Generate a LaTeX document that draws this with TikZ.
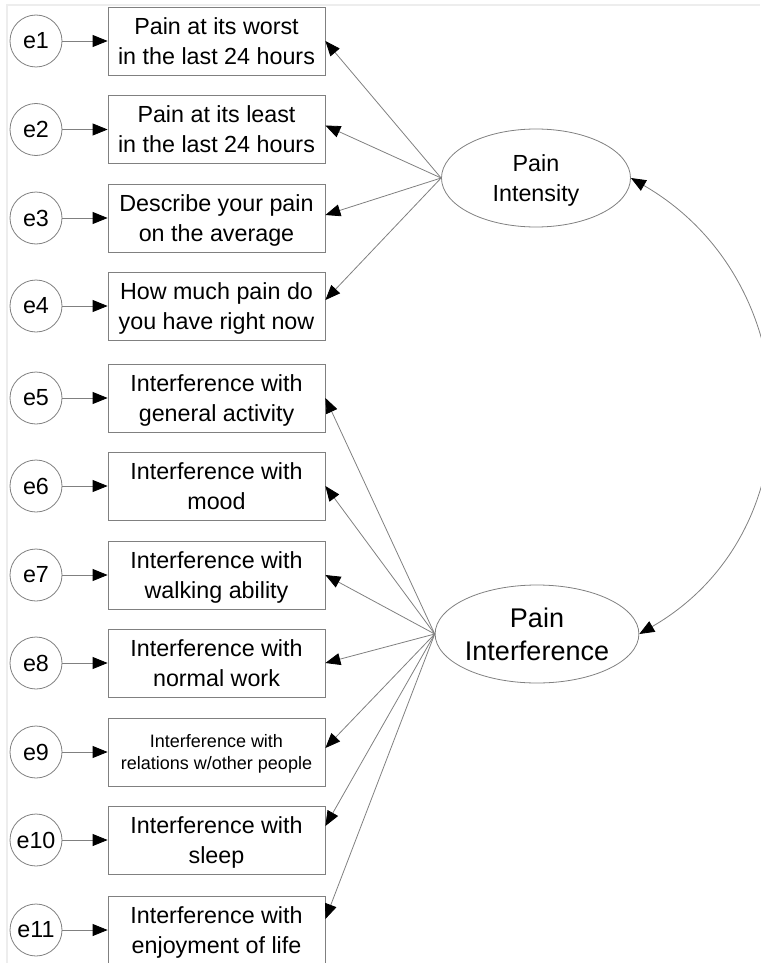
\documentclass[tikz,border=0pt]{standalone}
\usepackage{fontspec}
\setmainfont{Liberation Sans}
\usepackage{tikz}
\usetikzlibrary{arrows.meta}
\usetikzlibrary{shapes.geometric}
\newcommand{\itemfont}{\fontsize{23.3}{30}\selectfont}
\newcommand{\smallitemfont}{\fontsize{18}{22}\selectfont}
\newcommand{\latentfont}{\fontsize{27}{33}\selectfont}
\tikzset{
  errc/.style={circle, draw=black!50, line width=.8pt, minimum size=52pt, inner sep=0, font=\itemfont},
  itembox/.style={rectangle, draw=black!50, line width=.8pt, minimum width=217pt, minimum height=68pt,
    inner sep=0, align=center, text depth=0pt},
  latent/.style={ellipse, draw=black!50, line width=.8pt, minimum width=189pt, minimum height=98pt,
    inner sep=0, align=center, text depth=0pt},
  path/.style={draw=black!50, line width=.8pt, ->, >={Triangle[length=15pt,width=12pt,color=black]}}
}

\begin{document}
\begin{tikzpicture}[x=1pt, y=-1pt]
\useasboundingbox (0,0) rectangle (760,963);
\draw[black!7, line width=2pt] (7,963) -- (7,5) -- (760,5);
% indicators and their error terms
\foreach \i/\y/\ft/\txt in {
  1/41/\itemfont/{Pain at its worst\\in the last 24 hours},
  2/129.5/\itemfont/{Pain at its least\\in the last 24 hours},
  3/218/\itemfont/{Describe your pain\\on the average},
  4/306/\itemfont/{How much pain do\\you have right now},
  5/398/\itemfont/{Interference with\\general activity},
  6/486/\itemfont/{Interference with\\mood},
  7/575/\itemfont/{Interference with\\walking ability},
  8/663/\itemfont/{Interference with\\normal work},
  9/752/\smallitemfont/{Interference with\\relations w/other people},
  10/840/\itemfont/{Interference with\\sleep},
  11/930/\itemfont/{Interference with\\enjoyment of life}} {
 \node[errc] (e\i) at (36,\y) {e\i};
 \node[itembox, font=\ft] (b\i) at (216.5,\y) {\txt};
 \draw[path] (e\i) -- (b\i);
}
% latent factors
\node[latent, font=\itemfont] (pi) at (536,178) {Pain\\Intensity};
\node[latent, font=\latentfont] (pint) at (537,634) {Pain\\Interference};
\foreach \i/\s in {1/0,2/4,3/3,4/6}
 \draw[path] (pi.west) -- ([yshift=\s pt]b\i.east);
\foreach \i/\s in {5/0,6/0,7/0,8/0,9/4,10/14,11/11}
 \draw[path] (pint.west) -- ([yshift=\s pt]b\i.east);
% covariance
\draw[path, <->] (pi.east) to[out=-30, in=30, looseness=1.15] (pint.east);
\end{tikzpicture}
\end{document}
